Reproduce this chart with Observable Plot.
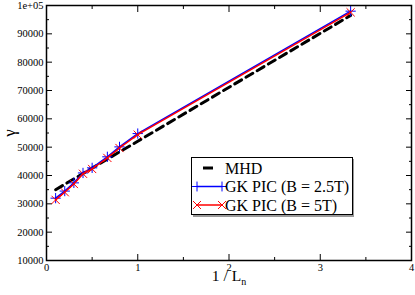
<!DOCTYPE html>
<html><head><meta charset="utf-8">
<script src="https://cdn.jsdelivr.net/npm/d3@7"></script>
<script src="https://cdn.jsdelivr.net/npm/@observablehq/plot@0.6"></script>
<style>body{margin:0;background:#fff}</style>
</head><body><div id="chart"></div>
<script>
const invLn = [0.1, 0.2, 0.3, 0.4, 0.5, 0.667, 0.8, 1.0, 3.333];
const gammaMHD = [35000, 36900, 38800, 40700, 42600, 45800, 48300, 52100, 96500];
const gammaGK25 = [32000, 34500, 37400, 40900, 42700, 46600, 50100, 54800, 98000];
const gammaGK5 = [31400, 34100, 37000, 40600, 42300, 46200, 49700, 54400, 97600];
const seriesNames = ["MHD", "GK PIC (B = 2.5T)", "GK PIC (B = 5T)"];
const xTicks = [0, 1, 2, 3, 4];
const xMinor = [0.5, 1.5, 2.5, 3.5];
const yTicks = [10000, 20000, 30000, 40000, 50000, 60000, 70000, 80000, 90000, 100000];
const yMinor = [15000, 25000, 35000, 45000, 55000, 65000, 75000, 85000, 95000];
const yLabels = ["10000", "20000", "30000", "40000", "50000", "60000", "70000", "80000", "90000", "1e+05"];

const mhd = invLn.map((x, i) => ({x, y: gammaMHD[i]}));
const gk25 = invLn.map((x, i) => ({x, y: gammaGK25[i]}));
const gk5 = invLn.map((x, i) => ({x, y: gammaGK5[i]}));

const FF = "'Liberation Serif', 'Times New Roman', serif";
const plot = Plot.plot({
  width: 415, height: 295,
  marginLeft: 46, marginRight: 4, marginTop: 5, marginBottom: 35,
  x: {domain: [0, 4]},
  y: {domain: [10000, 100000]},
  style: {fontFamily: FF, fontSize: "10px", background: "white", color: "black"},
  marks: [
    Plot.axisY({ticks: yTicks, tickSize: -6, tickPadding: 9, tickFormat: d => yLabels[yTicks.indexOf(d)], label: null, fontFamily: FF, fontSize: 10.5}),
    Plot.axisY({ticks: yMinor, tickSize: -3, tickFormat: () => "", label: null}),
    Plot.axisY({anchor: "right", ticks: yTicks, tickSize: -6, tickFormat: () => "", label: null}),
    Plot.axisY({anchor: "right", ticks: yMinor, tickSize: -3, tickFormat: () => "", label: null}),
    Plot.axisX({ticks: xTicks, tickSize: -6, tickPadding: 9, tickFormat: d => String(d), label: null, fontFamily: FF, fontSize: 10.5}),
    Plot.axisX({ticks: xMinor, tickSize: -3, tickFormat: () => "", label: null}),
    Plot.axisX({anchor: "top", ticks: xTicks, tickSize: -6, tickFormat: () => "", label: null}),
    Plot.axisX({anchor: "top", ticks: xMinor, tickSize: -3, tickFormat: () => "", label: null}),
    Plot.line(mhd, {x: "x", y: "y", stroke: "black", strokeWidth: 3, strokeDasharray: "8,5"}),
    Plot.line(gk25, {x: "x", y: "y", stroke: "#0000ff", strokeWidth: 1.5}),
    Plot.dot(gk25, {x: "x", y: "y", symbol: "plus", r: 3.4, stroke: "#0000ff", strokeWidth: 1}),
    Plot.line(gk5, {x: "x", y: "y", stroke: "#ff0000", strokeWidth: 1.5}),
    Plot.dot(gk5, {x: "x", y: "y", symbol: "times", r: 3.8, stroke: "#ff0000", strokeWidth: 1}),
    Plot.frame({stroke: "black", strokeWidth: 1.5})
  ]
});
document.getElementById("chart").appendChild(plot);

const svg = d3.select(plot);
// axis titles
svg.append("text").attr("transform", "translate(15,133) rotate(-90)")
  .style("text-anchor", "middle").style("font-family", FF).style("font-size", "17px").text("γ");
const xl = svg.append("text").attr("x", 229).attr("y", 281).style("text-anchor", "middle")
  .style("font-family", FF).style("font-size", "15.5px");
xl.append("tspan").text("1 / L");
xl.append("tspan").style("font-size", "10px").attr("dy", 4).text("n");

// legend
const lg = svg.append("g").style("font-family", FF).style("font-size", "16px").style("text-anchor", "start");
lg.append("rect").attr("x", 193).attr("y", 159).attr("width", 161).attr("height", 58).attr("fill", "#999");
lg.append("rect").attr("x", 191.5).attr("y", 157.5).attr("width", 161).attr("height", 57).attr("fill", "white").attr("stroke", "black");
const rows = [168, 186.5, 205];
const sym = {
  plus: d3.symbol(d3.symbolPlus, 34)(),
  times: d3.symbol(d3.symbolTimes, 43)()
};
// MHD
lg.append("line").attr("x1", 203).attr("x2", 213).attr("y1", rows[0]).attr("y2", rows[0]).attr("stroke", "black").attr("stroke-width", 3);
// GK 2.5
lg.append("line").attr("x1", 197).attr("x2", 222).attr("y1", rows[1]).attr("y2", rows[1]).attr("stroke", "#0000ff").attr("stroke-width", 1.5);
[197, 222].forEach(x => lg.append("path").attr("d", sym.plus).attr("transform", `translate(${x},${rows[1]})`).attr("stroke", "#0000ff").attr("fill", "none"));
// GK 5
lg.append("line").attr("x1", 197).attr("x2", 222).attr("y1", rows[2]).attr("y2", rows[2]).attr("stroke", "#ff0000").attr("stroke-width", 1.5);
[197, 222].forEach(x => lg.append("path").attr("d", sym.times).attr("transform", `translate(${x},${rows[2]})`).attr("stroke", "#ff0000").attr("fill", "none"));
seriesNames.forEach((n, i) => lg.append("text").attr("x", 225).attr("y", rows[i]).attr("dy", "0.35em").text(n));
</script></body></html>
